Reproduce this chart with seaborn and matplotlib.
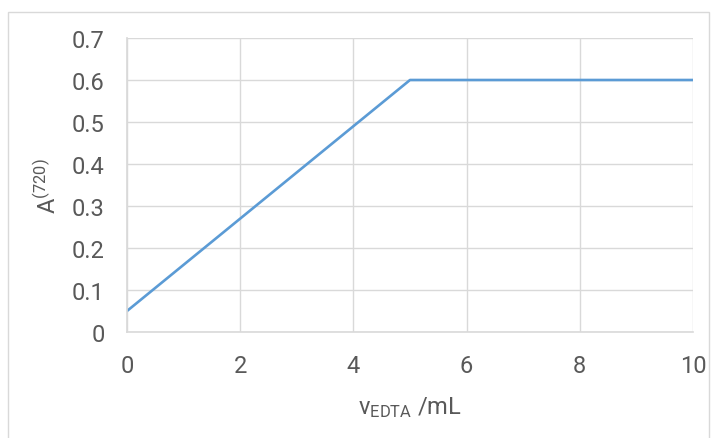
import matplotlib
matplotlib.use("Agg")
import matplotlib.pyplot as plt
import seaborn as sns
import pandas as pd
from matplotlib.patches import Rectangle

# data
volume_ml = [0, 5, 10]
absorbance = [0.05, 0.6, 0.6]
x_ticks = [0, 2, 4, 6, 8, 10]
y_ticks = [0, 0.1, 0.2, 0.3, 0.4, 0.5, 0.6, 0.7]

sns.set_theme(style="whitegrid")
plt.rcParams["font.family"] = ["Roboto", "DejaVu Sans"]
plt.rcParams["mathtext.default"] = "regular"

text_color = "#595959"
grid_color = "#d9d9d9"

df = pd.DataFrame({"v": volume_ml, "A": absorbance})

fig = plt.figure(figsize=(7.17, 4.39), dpi=100)
ax = fig.add_axes([127 / 717, 1 - 333 / 439, (693 - 127) / 717, (333 - 39) / 439])

sns.lineplot(data=df, x="v", y="A", ax=ax, color="#5b9bd5", linewidth=1.9)

ax.set_xlim(0, 10)
ax.set_ylim(0, 0.7)
ax.set_xticks(x_ticks)
ax.set_yticks(y_ticks)
ax.set_xticklabels([str(t) for t in x_ticks])
ax.set_yticklabels(["0"] + [f"{t:.1f}" for t in y_ticks[1:]])
ax.tick_params(axis="both", labelsize=17, colors=text_color, length=0)
ax.tick_params(axis="x", pad=16)
ax.tick_params(axis="y", pad=16)

ax.grid(True, color=grid_color, linewidth=1)
for side in ["top", "right"]:
    ax.spines[side].set_visible(False)
ax.spines["left"].set_color(grid_color)
ax.spines["bottom"].set_color(grid_color)
ax.spines["bottom"].set_linewidth(1.2)

ax.set_xlabel("v$_{EDTA}$ /mL", fontsize=17, color=text_color, labelpad=12)
ax.set_ylabel("A$^{(720)}$", fontsize=17, color=text_color, labelpad=8)

# outer chart border
fig.patches.append(Rectangle((8 / 717, -0.05), (709 - 8) / 717, 1.05 - 13 / 439,
                             transform=fig.transFigure, fill=False,
                             edgecolor=grid_color, linewidth=1))

fig.savefig("out.png", dpi=100)
